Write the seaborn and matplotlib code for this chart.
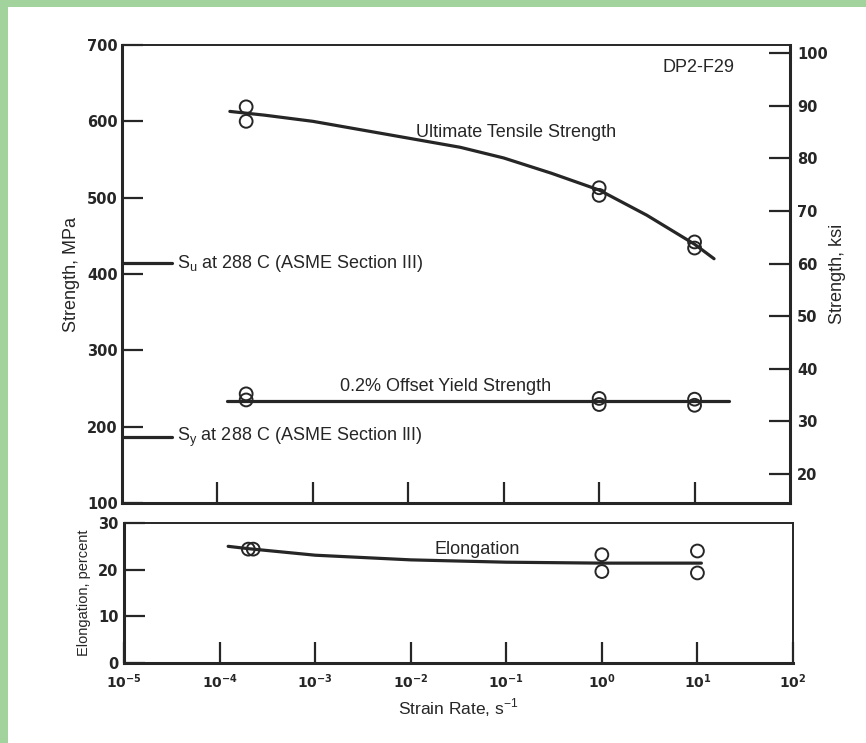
import numpy as np
import pandas as pd
import matplotlib
matplotlib.use("Agg")
import matplotlib.pyplot as plt
import seaborn as sns
from matplotlib.patches import Rectangle
from matplotlib.ticker import FixedLocator, NullLocator, FixedFormatter

# ---------------- data ----------------
# Ultimate tensile strength, MPa
uts_rate = [2e-4, 2e-4, 1.0, 1.0, 10.0, 10.0]
uts_mpa = [619, 600, 513, 503, 442, 434]
uts_fit_rate = [1.35e-4, 3.16e-4, 1e-3, 1e-2, 3.5e-2, 1e-1, 3.16e-1, 1.0, 3.16, 10.0, 16.0]
uts_fit_mpa = [613, 608, 600, 578, 566, 552, 532, 510, 477, 439, 420]

# 0.2% offset yield strength, MPa
ys_rate = [2e-4, 2e-4, 1.0, 1.0, 10.0, 10.0]
ys_mpa = [243, 235, 237, 229, 236, 228]
ys_fit_rate = [1.26e-4, 23.0]
ys_fit_mpa = [234, 234]

# Elongation, percent
el_rate = [2e-4, 2.25e-4, 1.0, 1.0, 10.0, 10.0]
el_pct = [24.4, 24.4, 23.2, 19.6, 24.0, 19.3]
el_fit_rate = [1.23e-4, 2e-4, 1e-3, 1e-2, 1e-1, 1.0, 11.0]
el_fit_pct = [25.0, 24.5, 23.1, 22.1, 21.6, 21.4, 21.4]

# ASME Section III values at 288 C, MPa
su_288 = 414
sy_288 = 186

mpa_ticks = [100, 200, 300, 400, 500, 600, 700]
ksi_ticks = [20, 30, 40, 50, 60, 70, 80, 90, 100]
el_ticks = [0, 10, 20, 30]
rate_ticks = [1e-5, 1e-4, 1e-3, 1e-2, 1e-1, 1e0, 1e1, 1e2]
rate_labels = [r"$\mathbf{10^{-5}}$", r"$\mathbf{10^{-4}}$", r"$\mathbf{10^{-3}}$",
               r"$\mathbf{10^{-2}}$", r"$\mathbf{10^{-1}}$", r"$\mathbf{10^{0}}$",
               r"$\mathbf{10^{1}}$", r"$\mathbf{10^{2}}$"]
MPA_PER_KSI = 6.895

# ---------------- style ----------------
sns.set_style("white")
plt.rcParams["font.family"] = ["Liberation Sans", "DejaVu Sans"]
plt.rcParams["mathtext.fontset"] = "dejavusans"

INK = "#262626"
W, H = 866, 743
fig = plt.figure(figsize=(W / 100, H / 100), dpi=100)
fig.patch.set_facecolor("#a3d39c")
bg = Rectangle((8 / W, 0), 1 - 8 / W, 1 - 7 / H, transform=fig.transFigure,
               facecolor="white", edgecolor="none", zorder=-100)
fig.patches.append(bg)


def px_axes(left, top, right, bottom):
    return fig.add_axes([left / W, 1 - bottom / H, (right - left) / W, (bottom - top) / H])


ax = px_axes(122, 45, 790, 503)
axe = px_axes(124, 523, 793, 663)

for a in (ax, axe):
    a.set_facecolor("none")
    a.set_xscale("log")
    a.set_xlim(1e-5, 1e2)
    for s in a.spines.values():
        s.set_color(INK)
        s.set_linewidth(2.2)
    a.spines["top"].set_linewidth(1.4)

TICK = dict(direction="in", length=15, width=1.6, colors=INK, labelsize=10.5)

# ---- top panel: strength ----
line_kw = dict(color=INK, linewidth=2.3, estimator=None, sort=True, legend=False)
sns.lineplot(x=uts_fit_rate, y=uts_fit_mpa, ax=ax, **line_kw)
sns.lineplot(x=ys_fit_rate, y=ys_fit_mpa, ax=ax, **line_kw)
pt_kw = dict(marker="o", s=85, facecolors="none", edgecolor=INK, linewidth=1.4, legend=False, zorder=5)
sns.scatterplot(x=uts_rate, y=uts_mpa, ax=ax, **pt_kw)
sns.scatterplot(x=ys_rate, y=ys_mpa, ax=ax, **pt_kw)

# ASME reference lines
sns.lineplot(x=[1e-5, 3.34e-5], y=[su_288, su_288], ax=ax, **line_kw)
sns.lineplot(x=[1e-5, 3.34e-5], y=[sy_288, sy_288], ax=ax, **line_kw)

ax.set_ylim(100, 700)
ax.yaxis.set_major_locator(FixedLocator(mpa_ticks))
ax.xaxis.set_major_locator(FixedLocator(rate_ticks[1:-1]))
ax.xaxis.set_minor_locator(NullLocator())
ax.yaxis.set_minor_locator(NullLocator())
ax.set_xticklabels([])
ax.tick_params(axis="both", which="major", bottom=True, left=True, top=False, right=False,
               pad=3, **TICK)
for lab in ax.get_yticklabels():
    lab.set_fontfamily("DejaVu Sans")
    lab.set_fontweight("bold")
ax.set_xlabel("")
ax.set_ylabel("Strength, MPa", fontsize=13, color=INK, labelpad=5)

axr = ax.twinx()
axr.set_ylim(100 / MPA_PER_KSI, 700 / MPA_PER_KSI)
axr.yaxis.set_major_locator(FixedLocator(ksi_ticks))
axr.yaxis.set_minor_locator(NullLocator())
axr.tick_params(axis="y", right=True, left=False, pad=5, **TICK)
for lab in axr.get_yticklabels():
    lab.set_fontfamily("DejaVu Sans")
    lab.set_fontweight("bold")
for s in axr.spines.values():
    s.set_visible(False)
axr.set_ylabel("Strength, ksi", fontsize=13, color=INK, labelpad=1)

txt_kw = dict(fontsize=13, color=INK, va="center")
ax.text(0.01205, 586, "Ultimate Tensile Strength", ha="left", **txt_kw)
ax.text(1.92e-3, 253, "0.2% Offset Yield Strength", ha="left", **txt_kw)
ax.text(3.77e-5, su_288, r"S$_\mathregular{u}$ at 288 C (ASME Section III)", ha="left", **txt_kw)
ax.text(3.77e-5, sy_288, r"S$_\mathregular{y}$ at 288 C (ASME Section III)", ha="left", **txt_kw)
ax.text(4.56, 671, "DP2-F29", ha="left", **txt_kw)

# ---- bottom panel: elongation ----
sns.lineplot(x=el_fit_rate, y=el_fit_pct, ax=axe, **line_kw)
sns.scatterplot(x=el_rate, y=el_pct, ax=axe, **pt_kw)
axe.set_ylim(0, 30)
axe.yaxis.set_major_locator(FixedLocator(el_ticks))
axe.yaxis.set_minor_locator(NullLocator())
axe.xaxis.set_major_locator(FixedLocator(rate_ticks))
axe.xaxis.set_major_formatter(FixedFormatter(rate_labels))
axe.xaxis.set_minor_locator(NullLocator())
axe.tick_params(axis="both", which="major", bottom=True, left=True, top=False, right=False,
                pad=4, **TICK)
axe.tick_params(axis="x", pad=7, labelsize=10)
for lab in axe.get_yticklabels():
    lab.set_fontfamily("DejaVu Sans")
    lab.set_fontweight("bold")
axe.spines["right"].set_linewidth(1.4)
axe.set_ylabel("Elongation, percent", fontsize=10.5, color=INK, labelpad=5)
axe.set_xlabel(r"Strain Rate, s$^\mathregular{-1}$", fontsize=12.5, color=INK, labelpad=4)
axe.text(0.01795, 24.4, "Elongation", ha="left", **txt_kw)

fig.savefig("out.png", dpi=100, facecolor=fig.get_facecolor())
